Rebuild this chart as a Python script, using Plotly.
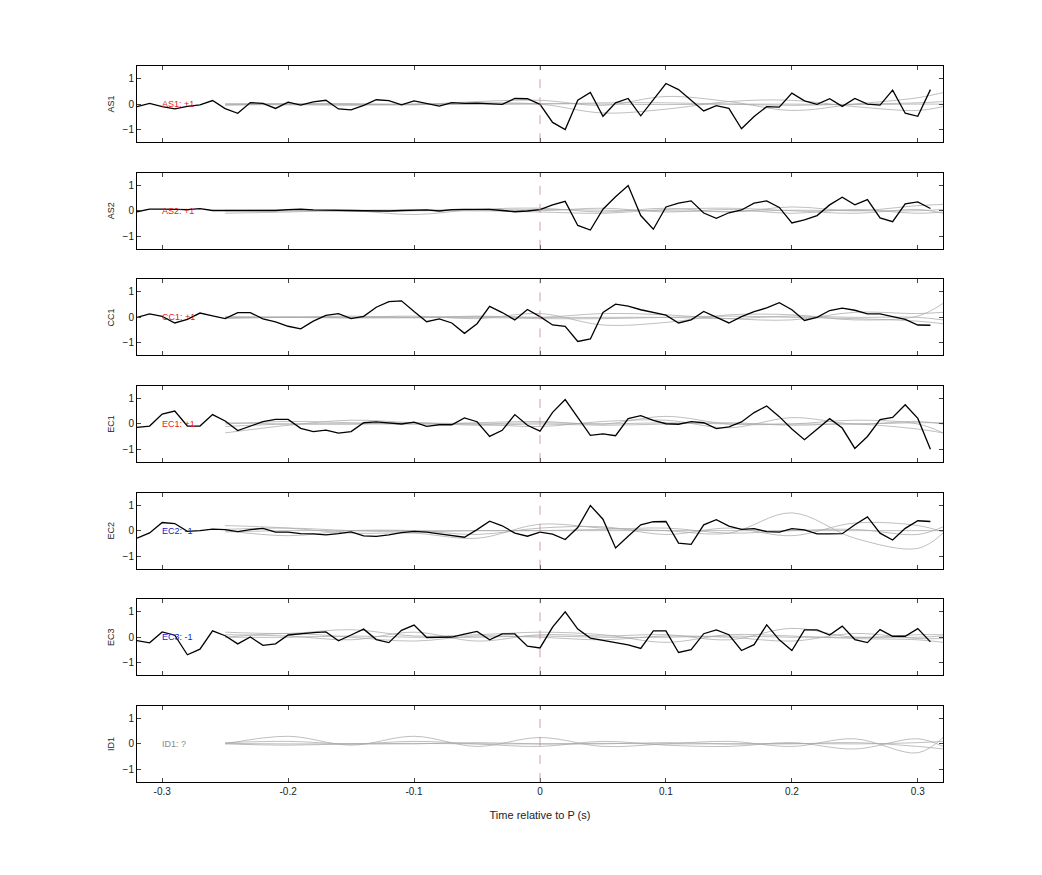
import plotly.graph_objects as go
from plotly.subplots import make_subplots

channels = ["AS1", "AS2", "CC1", "EC1", "EC2", "EC3", "ID1"]
labels = ["AS1: +1", "AS2: +1", "CC1: +1", "EC1: +1", "EC2: -1", "EC3: -1", "ID1: ?"]
label_colors = ["#e41a1c", "#e41a1c", "#e41a1c", "#e41a1c", "#2020d0", "#2020d0", "#888888"]

t_black = [round(-0.32 + 0.01 * i, 2) for i in range(64)]
black = {
    "AS1": [-0.10,0.03,-0.10,-0.19,-0.09,-0.03,0.14,-0.18,-0.36,0.06,0.03,-0.17,0.08,-0.04,0.09,0.15,-0.19,-0.23,-0.05,0.17,0.14,-0.03,0.13,0.03,-0.08,0.06,0.03,0.04,0.0,-0.01,0.22,0.21,-0.01,-0.72,-1.0,0.15,0.46,-0.48,0.05,0.22,-0.46,0.19,0.81,0.57,0.14,-0.27,-0.06,-0.17,-0.97,-0.49,-0.10,-0.12,0.43,0.13,-0.01,0.21,-0.09,0.22,0.0,-0.04,0.55,-0.36,-0.48,0.57],
    "AS2": [-0.04,0.06,0.06,0.06,0.04,0.08,0.01,0.01,0.01,0.01,0.01,0.01,0.04,0.06,0.03,0.03,0.01,0.01,0.0,-0.01,-0.01,0.01,0.01,0.03,-0.01,0.04,0.05,0.06,0.05,0.01,-0.04,-0.01,0.04,0.23,0.37,-0.58,-0.76,0.06,0.55,0.99,-0.19,-0.73,0.15,0.30,0.39,-0.09,-0.30,-0.08,0.03,0.30,0.39,0.13,-0.48,-0.36,-0.19,0.23,0.53,0.23,0.44,-0.28,-0.43,0.27,0.35,0.09],
    "CC1": [0.0,0.14,0.04,-0.22,-0.08,0.17,0.06,-0.05,0.19,0.19,-0.06,-0.18,-0.35,-0.45,-0.15,0.08,0.15,-0.05,0.04,0.40,0.62,0.65,0.23,-0.17,-0.06,-0.22,-0.63,-0.25,0.43,0.19,-0.10,0.31,0.03,-0.30,-0.35,-0.95,-0.85,0.19,0.52,0.44,0.30,0.18,0.09,-0.22,-0.10,0.23,0.01,-0.22,0.03,0.23,0.37,0.58,0.30,-0.12,0.0,0.27,0.36,0.28,0.14,0.14,0.03,-0.08,-0.30,-0.31],
    "EC1": [-0.13,-0.08,0.39,0.51,-0.08,-0.08,0.37,0.12,-0.26,-0.09,0.09,0.18,0.18,-0.17,-0.30,-0.24,-0.36,-0.30,0.05,0.08,0.05,0.0,0.07,-0.09,-0.03,-0.03,0.24,0.09,-0.49,-0.25,0.37,-0.05,-0.28,0.46,0.96,0.24,-0.45,-0.39,-0.46,0.21,0.33,0.14,0.01,-0.01,0.09,0.05,-0.18,-0.11,0.08,0.45,0.71,0.29,-0.20,-0.62,-0.21,0.21,-0.16,-0.96,-0.49,0.17,0.26,0.76,0.22,-0.99],
    "EC2": [-0.30,-0.09,0.32,0.28,-0.03,0.0,0.06,0.04,-0.04,0.04,0.09,-0.06,-0.06,-0.12,-0.13,-0.17,-0.12,-0.05,-0.21,-0.23,-0.17,-0.08,-0.03,-0.06,-0.13,-0.19,-0.26,0.04,0.37,0.19,-0.10,-0.22,-0.06,-0.14,-0.35,0.12,0.99,0.45,-0.68,-0.22,0.23,0.35,0.36,-0.49,-0.54,0.23,0.43,0.18,0.05,0.08,-0.04,-0.06,0.08,0.03,-0.13,-0.13,-0.12,0.23,0.54,-0.10,-0.37,0.09,0.39,0.36],
    "EC3": [-0.13,-0.22,0.21,0.08,-0.69,-0.47,0.25,0.06,-0.26,0.01,-0.32,-0.26,0.09,0.14,0.18,0.21,-0.14,0.09,0.32,-0.09,-0.21,0.27,0.48,-0.01,-0.01,0.01,0.12,0.23,-0.10,0.13,0.13,-0.35,-0.42,0.40,1.0,0.32,-0.03,-0.12,-0.21,-0.30,-0.44,0.25,0.25,-0.60,-0.49,0.14,0.29,0.10,-0.52,-0.29,0.49,-0.10,-0.52,0.29,0.29,0.09,0.44,-0.09,-0.21,0.30,0.04,0.04,0.34,-0.18],
}

t_gray = [-0.25,-0.2,-0.15,-0.1,-0.05,0.0,0.05,0.1,0.15,0.2,0.25,0.3,0.32]
gray = {
    "AS1": [[0,0.02,0,-0.03,0.1,0.15,-0.05,0.3,0.1,-0.25,0.0,0.25,0.45],
            [0,0,-0.05,0,0.05,0,-0.35,-0.2,0.1,0.15,-0.1,-0.25,-0.1],
            [0,-0.03,-0.02,0,0,0,0.05,0.05,0,-0.05,0,0.05,0.1],
            [-0.05,0,0.02,-0.02,0,0.02,0,-0.02,0,0,-0.02,0,0]],
    "AS2": [[-0.1,-0.05,0,-0.15,0.05,0.1,-0.05,0.1,-0.05,0.15,0,0.2,0.25],
            [0,0.03,-0.03,0,0.05,0,0.1,-0.05,0.05,-0.1,0.05,-0.1,-0.05],
            [0,0,0.02,0.03,0,-0.05,-0.1,0.05,0.1,0,-0.1,0.05,-0.1],
            [0.02,0,0,0,0,0.05,0.02,0,-0.03,0.02,0,0,0.05]],
    "CC1": [[0,0.02,0,0.05,-0.05,0.15,-0.3,-0.2,0.1,0.1,-0.1,0.05,0.55],
            [0,0,0.05,0,0.05,0,0.15,0.1,-0.05,-0.1,0.2,0.15,0.2],
            [-0.05,0,-0.03,0,0,-0.05,-0.05,0,0.05,0,-0.05,-0.15,-0.25],
            [0.03,0,0,-0.02,0.03,0,0,0,-0.05,0.05,0,0,-0.1]],
    "EC1": [[-0.35,-0.05,0.15,0.05,0,-0.1,0.1,0.15,-0.15,0.25,0,0.1,0.0],
            [0,0.1,0.05,0,0.05,0.1,0,0.3,0.0,0,0.15,0,-0.35],
            [-0.1,0,0,0.05,-0.05,0,-0.05,0,0.05,-0.05,0,-0.2,-0.35],
            [0.05,0,0,0,0,0.05,0,0.05,0,0,0,0.05,0.05]],
    "EC2": [[0.2,0.1,-0.1,-0.1,-0.3,0.25,0.1,0.0,-0.1,0.7,-0.3,-0.7,-0.1],
            [0,-0.2,0,0,-0.15,0.1,0.15,-0.15,0.1,-0.2,0.3,0.2,-0.05],
            [0.05,0.1,0,-0.05,0,0,0.05,0.1,-0.1,0,0.05,-0.15,0.15],
            [-0.05,0,0,0,0,0,0,0,0,0,0,0,0]],
    "EC3": [[0.2,0.15,0.3,0.05,0.1,0.2,0.1,-0.2,0.1,0.05,-0.05,-0.1,-0.2],
            [0.1,0.05,-0.1,0.2,-0.15,0.1,0.05,0.1,-0.1,0.35,0,0.1,0.1],
            [0,0.15,0,-0.15,0.05,0,-0.1,0.05,0,-0.15,0.15,-0.05,-0.05],
            [0,0,0.05,0,0,0.05,0,0,0.05,0,0,0,0.05]],
    "ID1": [[0,0.3,-0.05,0.3,-0.1,0.25,-0.1,0,0.1,-0.1,0.2,-0.35,0.25],
            [0.05,0.1,0,0.1,0,-0.1,0.1,-0.05,-0.1,0.05,-0.2,0.2,-0.1],
            [0,-0.05,0,0,0.05,0,0,0.05,0,0,0.05,-0.1,-0.2],
            [0.02,0,0,0.02,0,0,0.02,0,0,0.02,0,0.05,0.1]],
}

x_ticks = [-0.3, -0.2, -0.1, 0, 0.1, 0.2, 0.3]
x_ticklabels = ["-0.3", "-0.2", "-0.1", "0", "0.1", "0.2", "0.3"]

n = len(channels)
fig = make_subplots(rows=n, cols=1, shared_xaxes=True, vertical_spacing=0.0425)

for i, ch in enumerate(channels):
    r = i + 1
    for g in gray[ch]:
        fig.add_trace(go.Scatter(x=t_gray, y=g, mode="lines", line=dict(color="rgba(170,170,170,0.75)", width=1, shape="spline"),
                                 showlegend=False, hoverinfo="skip"), row=r, col=1)
    if ch in black:
        fig.add_trace(go.Scatter(x=t_black, y=black[ch], mode="lines", line=dict(color="black", width=1.3),
                                 showlegend=False), row=r, col=1)
    fig.add_shape(type="line", x0=0, x1=0, y0=-1.5, y1=1.5, line=dict(color="rgba(190,140,140,0.8)", width=1, dash="dash"),
                  row=r, col=1)
    fig.add_annotation(x=-0.302, y=0, text=labels[i], showarrow=False, xanchor="left", yanchor="middle",
                       font=dict(size=9, color=label_colors[i]), row=r, col=1)
    fig.update_yaxes(range=[-1.5, 1.5], tickvals=[-1, 0, 1], ticks="inside", ticklen=4, showgrid=False, zeroline=False,
                     showline=True, mirror="ticks", linecolor="black", linewidth=1, tickfont=dict(size=10),
                     title=dict(text=ch, font=dict(size=9), standoff=6), row=r, col=1)
    fig.update_xaxes(range=[-0.32, 0.32], tickvals=x_ticks, ticktext=x_ticklabels, ticks="inside", ticklen=4,
                     showgrid=False, zeroline=False, showline=True, mirror="ticks", linecolor="black", linewidth=1,
                     tickfont=dict(size=10), row=r, col=1)

fig.update_xaxes(title=dict(text="Time relative to P (s)", font=dict(size=11)), row=n, col=1)
fig.update_layout(width=1042, height=875, margin=dict(l=129, r=107, t=58, b=101),
                  plot_bgcolor="white", paper_bgcolor="white",
                  font=dict(family="Liberation Sans, Arial, sans-serif", color="#222"))
fig.write_html("out.html")
